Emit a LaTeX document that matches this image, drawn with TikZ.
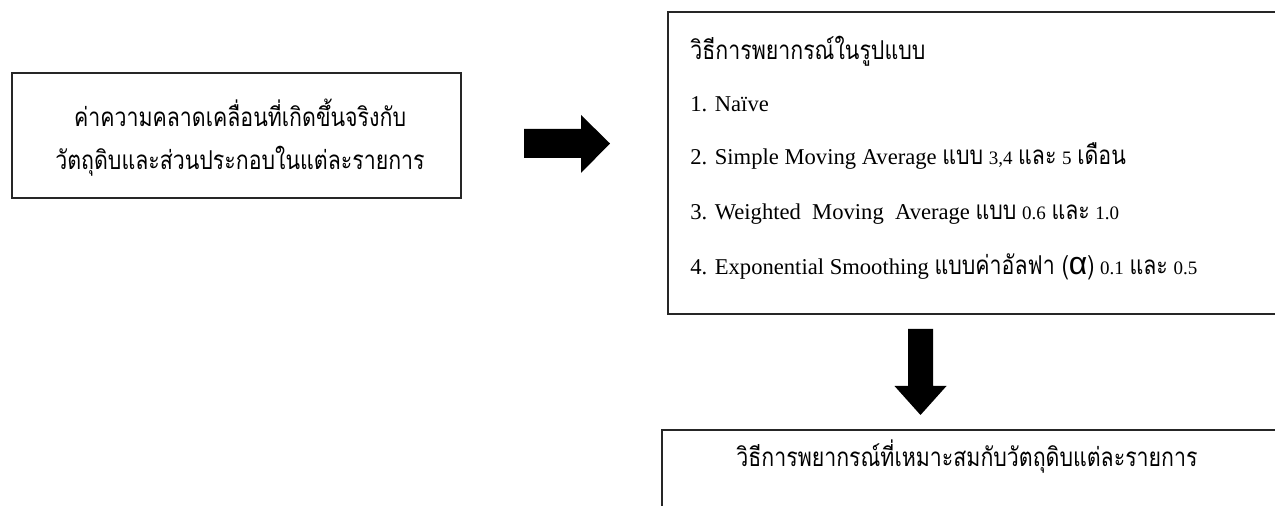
\documentclass[tikz,border=0pt]{standalone}
\usepackage{fontspec}
\usepackage{graphicx}
\setmainfont{Liberation Serif}
\newfontfamily\thaifont[Script=Thai]{Loma}
\newfontfamily\alphafont{Liberation Sans}
\newcommand{\thtxt}[1]{\scalebox{0.97}[1.18]{\thaifont\fontsize{11pt}{12pt}\selectfont #1}}
\newcommand{\dig}[1]{{\fontsize{9.5pt}{11pt}\selectfont #1}}
\begin{document}
\begin{tikzpicture}[x=0.5pt,y=-0.5pt,
  boxframe/.style={draw=black!85, line width=1pt, anchor=north west, inner sep=0pt},
  txt/.style={inner sep=0pt, font=\fontsize{11.3pt}{14pt}\selectfont},
  blockarrow/.style={fill=black}]
\useasboundingbox (0,0) rectangle (1275,506);
\clip (0,0) rectangle (1275,506);
% box 1
\node[boxframe, minimum width=224.5pt, minimum height=62.5pt] (b1) at (11,72) {};
\node[txt, anchor=base] (b1a) at (240,127) {\thtxt{ค่าความคลาดเคลื่อนที่เกิดขึ้นจริงกับ}};
\node[txt, anchor=base] (b1b) at (240,170) {\thtxt{วัตถุดิบและส่วนประกอบในแต่ละรายการ}};
% box 2
\node[boxframe, minimum width=310pt, minimum height=151pt] (b2) at (667,11) {};
\node[txt, anchor=base west] (l0) at (690,60) {\thtxt{วิธีการพยากรณ์ในรูปแบบ}};
\node[txt, anchor=base west] (l1) at (690,112) {1. Naïve};
\node[txt, anchor=base west] (l2) at (690,165) {2. Simple Moving Average \thtxt{แบบ} \dig{3,4} \thtxt{และ} \dig{5} \thtxt{เดือน}};
\node[txt, anchor=base west] (l3) at (690,220) {3. Weighted\ \ Moving\ \ Average \thtxt{แบบ} \dig{0.6} \thtxt{และ} \dig{1.0}};
\node[txt, anchor=base west] (l4) at (690,275) {4. Exponential Smoothing \thtxt{แบบค่าอัลฟา (}{\alphafont\fontsize{16pt}{16pt}\selectfont α}\thtxt{)} \dig{0.1} \thtxt{และ} \dig{0.5}};
% box 3
\node[boxframe, minimum width=320pt, minimum height=60pt] (b3) at (661,429) {};
\node[txt, anchor=base] (b3a) at (967,467) {\thtxt{วิธีการพยากรณ์ที่เหมาะสมกับวัตถุดิบแต่ละรายการ}};
% block arrows
\coordinate (ra) at (524,143.5);
\coordinate (da) at (920.5,329);
\fill[blockarrow] (ra) ++(0,-14.5) -- ++(57,0) -- ++(0,-14) -- (610,143.5) -- (581,173) -- ++(0,-15) -- ++(-57,0) -- cycle;
\fill[blockarrow] (da) ++(-12.5,0) -- ++(25,0) -- ++(0,57) -- ++(13.5,0) -- (920.5,415) -- (894.5,386) -- ++(13.5,0) -- cycle;
\end{tikzpicture}
\end{document}
